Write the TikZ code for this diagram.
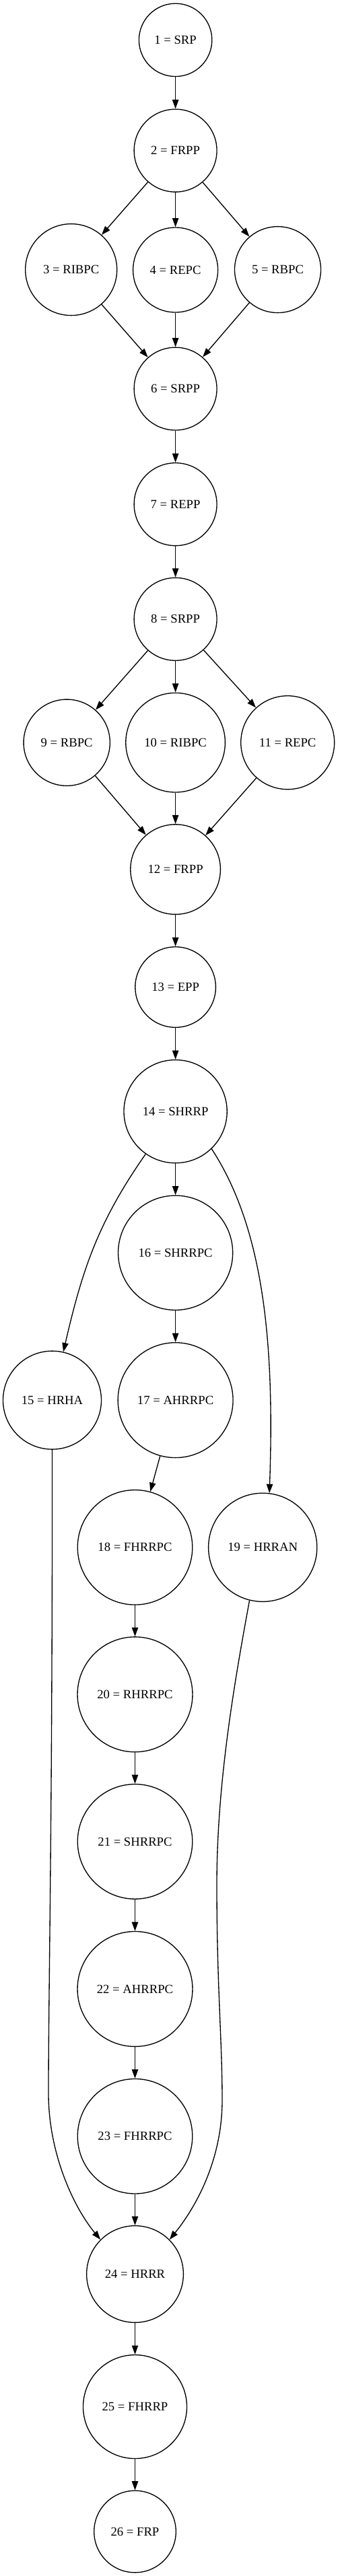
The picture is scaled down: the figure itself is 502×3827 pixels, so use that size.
\documentclass[tikz,border=0pt]{standalone}
\usepackage{fontspec}
\setmainfont{Liberation Serif}
\usetikzlibrary{arrows.meta}
\tikzset{
  state/.style={draw, circle, line width=1pt, inner sep=1pt, font=\fontsize{14}{16}\selectfont},
  edge/.style={->, line width=1pt}
}
\begin{document}
\begin{tikzpicture}[x=0.75pt, y=0.75pt, >={Triangle[length=10pt,width=7pt]}]
	\useasboundingbox (0,0) rectangle (502,-3827);

	% states: number / x / y / size / name
	\foreach \id/\xx/\yy/\sz/\lab in {1/260.6/59.4/81.3/SRP, 2/260.6/223.7/92.2/FRPP,
		3/105.7/400.6/102/RIBPC, 4/260.6/401/94.5/REPC, 5/412.5/400.6/96/RBPC,
		6/260.6/577.6/92.2/SRPP, 7/260.6/749.2/92.2/REPP, 8/260.6/919.8/92.2/SRPP,
		9/99.2/1103.2/96.2/RBPC, 10/260.6/1103.2/110.7/RIBPC, 11/427.2/1103.2/104.2/REPC,
		12/260.6/1291.6/100.2/FRPP, 13/260.6/1466.5/89.7/EPP, 14/260.6/1651.2/114.9/SHRRP,
		15/77.5/2080.1/109.5/HRHA, 16/260.6/1861.2/127.6/SHRRPC, 17/260.6/2080.1/128.2/AHRRPC,
		18/200.5/2298.8/127.9/FHRRPC, 19/390.2/2298.8/120.9/HRRAN, 20/200.5/2517.3/128.2/RHRRPC,
		21/200.5/2735.9/127.9/SHRRPC, 22/200.5/2954.9/128.2/AHRRPC, 23/200.5/3173.7/127.9/FHRRPC,
		24/200.5/3378.5/107.8/HRRR, 25/200.5/3575.5/115.5/FHRRP, 26/200.5/3761/91.2/FRP}
	{
		\node[state, minimum size=\sz pt] (n\id) at (\xx,-\yy) {\id{} = \lab};
	}

	% straight transitions
	\foreach \a/\b in {1/2, 2/3, 2/4, 2/5, 3/6, 4/6, 5/6, 6/7, 7/8, 8/9, 8/10, 8/11,
		9/12, 10/12, 11/12, 12/13, 13/14, 14/16, 16/17, 17/18, 18/20, 20/21, 21/22,
		22/23, 23/24, 24/25, 25/26}
	{
		\draw[edge] (n\a) -- (n\b);
	}

	% curved transitions
	\draw[edge] (n14) to[out=-125, in=77] (n15);
	\draw[edge] (n14.-46) .. controls (397,-1833) and (407,-2017) .. (n19.83);
	\draw[edge] (n15.south) .. controls (78,-2700) and (72,-2950) .. (72,-3110)
		.. controls (72,-3200) and (110,-3280) .. (n24.135);
	\draw[edge] (n19.-104) .. controls (348,-2500) and (322,-2650) .. (322,-2800)
		.. controls (322,-2950) and (330,-3030) .. (330,-3120)
		.. controls (330,-3210) and (290,-3280) .. (n24.45);
\end{tikzpicture}
\end{document}
